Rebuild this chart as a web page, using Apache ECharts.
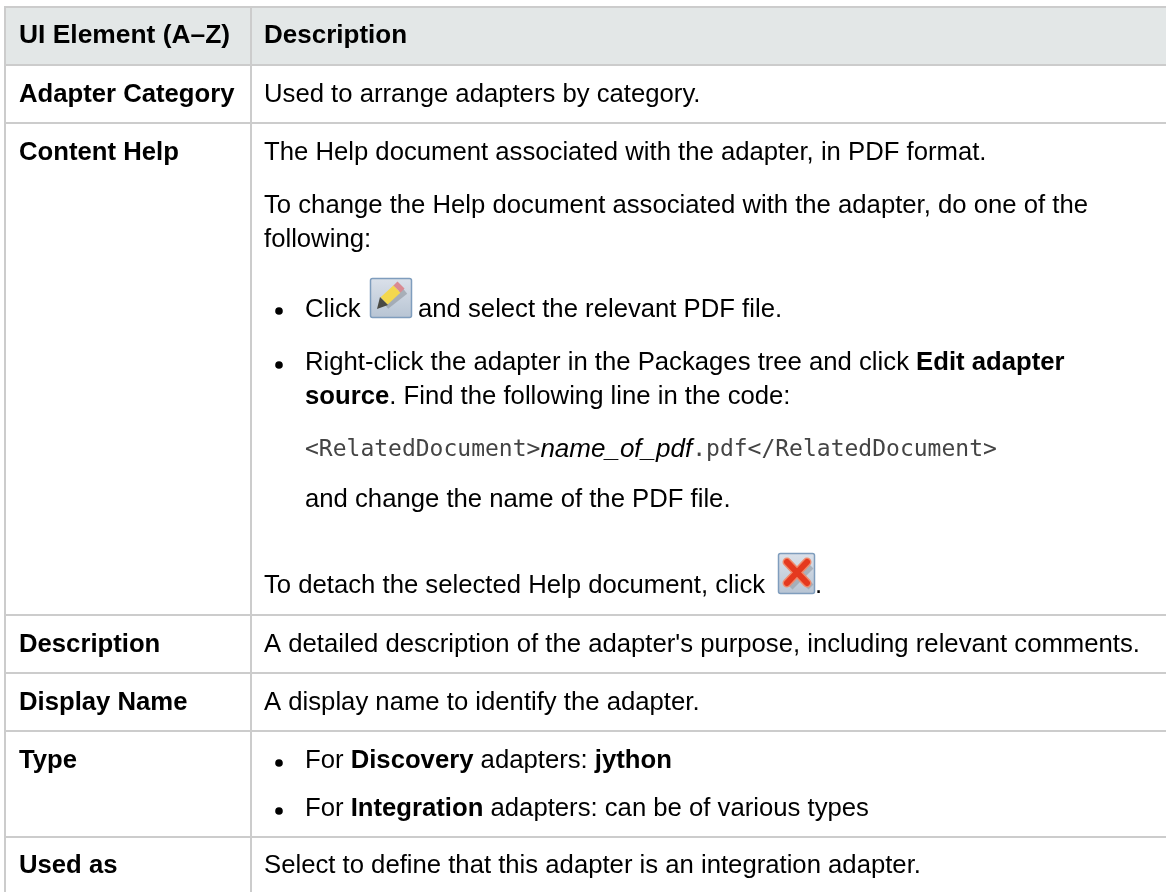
<!DOCTYPE html>
<html>
<head>
<meta charset="utf-8">
<style>
  html, body { margin: 0; padding: 0; background: #fff; }
  #chart { width: 1166px; height: 892px; }
</style>
<script src="https://cdn.jsdelivr.net/npm/echarts@6/dist/echarts.min.js"></script>
</head>
<body>
<div id="chart"></div>
<script>
// table text, {b|..} bold, {i|..} italic, {m|..} monospace
const headers = ['UI Element (A\u2013Z)', 'Description'];
const rowNames = ['Adapter Category', 'Content Help', 'Description', 'Display Name', 'Type', 'Used as'];
const descLines = [
  'Used to arrange adapters by category.',
  'The Help document associated with the adapter, in PDF format.',
  'To change the Help document associated with the adapter, do one of the',
  'following:',
  'Click',
  'and select the relevant PDF file.',
  'Right-click the adapter in the Packages tree and click {b|Edit adapter}',
  '{b|source}. Find the following line in the code:',
  '{m|<RelatedDocument>}{i|name_of_pdf}{m|.pdf</RelatedDocument>}',
  'and change the name of the PDF file.',
  'To detach the selected Help document, click',
  '.',
  "A detailed description of the adapter's purpose, including relevant comments.",
  'A display name to identify the adapter.',
  'For {b|Discovery} adapters: {b|jython}',
  'For {b|Integration} adapters: can be of various types',
  'Select to define that this adapter is an integration adapter.'
];

// layout
const rowLineYs = [65, 123, 615, 673, 731, 837];
const nameYs = [94.5, 152.5, 645, 702.5, 760.5, 866];
const descXs = [264, 264, 264, 264, 305, 418, 305, 305, 305, 305, 264, 815, 264, 264, 305, 305, 264];
const descYs = [94.5, 152.5, 206, 240, 310, 310, 363, 397, 450, 500, 586, 586, 645, 703, 761, 809, 866];
const bulletYs = [311, 365, 763, 811];
const colX = [5, 251];
const border = '#cccccc';
const font = '"Liberation Sans", Arial, sans-serif';
const size = 25.7;

const baseStyle = { fontFamily: font, fontSize: size, fill: '#000', verticalAlign: 'middle' };
const textRich = {
  b: { fontFamily: font, fontSize: size, fontWeight: 'bold', fill: '#000' },
  i: { fontFamily: font, fontSize: 26, fontStyle: 'italic', fill: '#000' },
  m: { fontFamily: '"DejaVu Sans Mono", monospace', fontSize: 23, fill: '#444' }
};

const elements = [];
// header background
elements.push({ type: 'rect', shape: { x: 5, y: 7, width: 1161, height: 58 }, style: { fill: '#e3e7e7' } });
// grid lines
[7].concat(rowLineYs).forEach((y) => {
  elements.push({ type: 'line', shape: { x1: 4, y1: y, x2: 1166, y2: y }, style: { stroke: border, lineWidth: 2 } });
});
colX.forEach((x) => {
  elements.push({ type: 'line', shape: { x1: x, y1: 6, x2: x, y2: 892 }, style: { stroke: border, lineWidth: 2 } });
});
// header and first column
elements.push({ type: 'text', x: 19, y: 36, style: { ...baseStyle, text: headers[0], fontWeight: 'bold', fontSize: 26.4 } });
elements.push({ type: 'text', x: 264, y: 36, style: { ...baseStyle, text: headers[1], fontWeight: 'bold', fontSize: 26 } });
rowNames.forEach((name, i) => {
  elements.push({ type: 'text', x: 19, y: nameYs[i], style: { ...baseStyle, text: name, fontWeight: 'bold' } });
});
// description column
descLines.forEach((line, i) => {
  elements.push({ type: 'text', x: descXs[i], y: descYs[i], style: { ...baseStyle, text: line, rich: textRich } });
});
bulletYs.forEach((y) => {
  elements.push({ type: 'circle', shape: { cx: 279, cy: y, r: 3.8 }, style: { fill: '#000' } });
});

const btnFill = {
  type: 'linear', x: 0, y: 0, x2: 0, y2: 1,
  colorStops: [{ offset: 0, color: '#dbe1ea' }, { offset: 1, color: '#b7c4d3' }]
};
// pencil button
elements.push({ type: 'rect', shape: { x: 370.5, y: 278.5, width: 41, height: 39, r: 2 }, style: { fill: btnFill, stroke: '#7f9dbd', lineWidth: 1.5 } });
elements.push({ type: 'line', shape: { x1: 386, y1: 306, x2: 405, y2: 291 }, style: { stroke: '#8e949c', lineWidth: 7, opacity: 0.6 } });
elements.push({ type: 'line', shape: { x1: 384, y1: 301, x2: 397, y2: 289 }, style: { stroke: '#f3d84e', lineWidth: 10 } });
elements.push({ type: 'line', shape: { x1: 397, y1: 289, x2: 401, y2: 285 }, style: { stroke: '#d98a92', lineWidth: 10 } });
elements.push({ type: 'polygon', shape: { points: [[377, 309], [380, 297], [388, 305]] }, style: { fill: '#4a4a44' } });

// delete button
elements.push({ type: 'rect', shape: { x: 778.5, y: 553.5, width: 36, height: 40, r: 2 }, style: { fill: btnFill, stroke: '#7f9dbd', lineWidth: 1.5 } });
elements.push({ type: 'line', shape: { x1: 790, y1: 566, x2: 811, y2: 587 }, style: { stroke: '#9aa3ad', lineWidth: 7, opacity: 0.7 } });
elements.push({ type: 'line', shape: { x1: 811, y1: 566, x2: 790, y2: 587 }, style: { stroke: '#9aa3ad', lineWidth: 7, opacity: 0.7 } });
elements.push({ type: 'line', shape: { x1: 787, y1: 562, x2: 807, y2: 583 }, style: { stroke: '#f08a6c', lineWidth: 9, lineCap: 'round' } });
elements.push({ type: 'line', shape: { x1: 807, y1: 562, x2: 787, y2: 583 }, style: { stroke: '#f08a6c', lineWidth: 9, lineCap: 'round' } });
elements.push({ type: 'line', shape: { x1: 787, y1: 562, x2: 807, y2: 583 }, style: { stroke: '#e5391f', lineWidth: 6, lineCap: 'round' } });
elements.push({ type: 'line', shape: { x1: 807, y1: 562, x2: 787, y2: 583 }, style: { stroke: '#e5391f', lineWidth: 6, lineCap: 'round' } });

const chart = echarts.init(document.getElementById('chart'));
chart.setOption({
  animation: false,
  backgroundColor: '#fff',
  graphic: { elements }
});
window.addEventListener('resize', () => chart.resize());
</script>
</body>
</html>
